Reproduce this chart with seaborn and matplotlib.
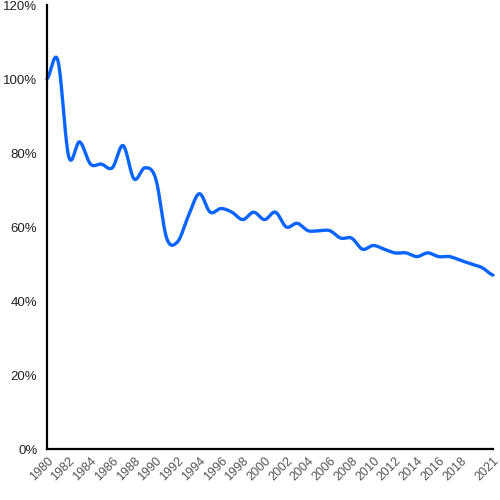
import matplotlib
matplotlib.use("Agg")
import matplotlib.pyplot as plt
import numpy as np
import pandas as pd
import seaborn as sns

years = list(range(1980, 2022))
share = [100, 105, 79, 83, 77, 77, 76, 82, 73, 76,
         73, 57, 56, 63, 69, 64, 65, 64, 62, 64,
         62, 64, 60, 61, 59, 59, 59, 57, 57, 54,
         55, 54, 53, 53, 52, 53, 52, 52, 51, 50,
         49, 47]
tick_years = list(range(1980, 2020, 2)) + [2021]
y_ticks = [0, 20, 40, 60, 80, 100, 120]

LINE_COLOR = "#0a64ff"


def smooth(x, y, steps=20):
    # Catmull-Rom through the read points, so the line curves like the original
    x = np.asarray(x, float)
    y = np.asarray(y, float)
    xp = np.r_[x[0], x, x[-1]]
    yp = np.r_[y[0], y, y[-1]]
    xs, ys = [], []
    t = np.linspace(0, 1, steps, endpoint=False)
    for i in range(1, len(xp) - 2):
        p0, p1, p2, p3 = yp[i - 1], yp[i], yp[i + 1], yp[i + 2]
        ys.append(0.5 * (2 * p1 + (-p0 + p2) * t + (2 * p0 - 5 * p1 + 4 * p2 - p3) * t ** 2
                         + (-p0 + 3 * p1 - 3 * p2 + p3) * t ** 3))
        xs.append(xp[i] + (xp[i + 1] - xp[i]) * t)
    xs.append([x[-1]])
    ys.append([y[-1]])
    return np.concatenate(xs), np.concatenate(ys)


sns.set_style("white")
plt.rcParams["font.family"] = ["Liberation Sans", "DejaVu Sans"]

sx, sy = smooth(years, share)
df = pd.DataFrame({"year": sx, "share": sy})

fig = plt.figure(figsize=(5, 5), dpi=100)
ax = fig.add_axes([0.094, 0.102, 0.892, 0.888])
sns.lineplot(data=df, x="year", y="share", ax=ax, color=LINE_COLOR, lw=2.4, clip_on=False)

ax.set_xlim(1980, 2021)
ax.set_ylim(0, 120)
ax.set_xticks(tick_years)
ax.set_xticklabels([str(y) for y in tick_years], rotation=45, ha="right", va="top",
                   rotation_mode="anchor", color="#555555", fontsize=9)
ax.set_yticks(y_ticks)
ax.set_yticklabels([f"{v}%" for v in y_ticks], color="#222222", fontsize=9.5)
ax.tick_params(axis="x", length=0, pad=4)
ax.tick_params(axis="y", length=0, pad=7)
ax.set_xlabel("")
ax.set_ylabel("")
sns.despine(ax=ax)
for s in ["left", "bottom"]:
    ax.spines[s].set_color("black")
    ax.spines[s].set_linewidth(1.6)
ax.grid(False)

fig.savefig("out.png", dpi=100)
